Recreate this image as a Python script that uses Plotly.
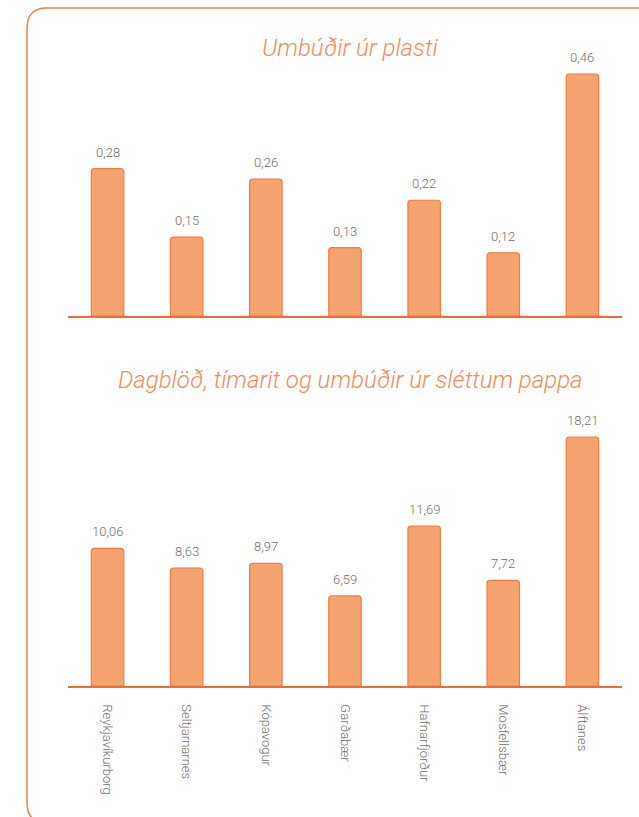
import plotly.graph_objects as go

categories = ["Reykjavíkurborg", "Seltjarnarnes", "Kópavogur", "Garðabær",
              "Hafnarfjörður", "Mosfellsbær", "Álftanes"]
plastic = [0.28, 0.15, 0.26, 0.13, 0.22, 0.12, 0.46]
paper = [10.06, 8.63, 8.97, 6.59, 11.69, 7.72, 18.21]
title_plastic = "Umbúðir úr plasti"
title_paper = "Dagblöð, tímarit og umbúðir úr sléttum pappa"

W, H = 639, 817
FILL = "#F6A372"
EDGE = "#F07C40"
AXIS = "#F26B2E"
TITLE_C = "#F58A5C"
GREY = "#707070"

def px_x(p):
    return p / W

def px_y(p):
    return 1 - p / H

def fmt(v):
    return f"{v:.2f}".replace(".", ",")

fig = go.Figure()
fig.add_trace(go.Bar(x=categories, y=plastic, xaxis="x", yaxis="y",
                     marker=dict(color=FILL, line=dict(color=EDGE, width=1.2), cornerradius=3),
                     hoverinfo="skip"))
fig.add_trace(go.Bar(x=categories, y=paper, xaxis="x2", yaxis="y2",
                     marker=dict(color=FILL, line=dict(color=EDGE, width=1.2), cornerradius=3),
                     hoverinfo="skip"))

num_font = dict(size=13, color=GREY, family="Roboto", weight=300)
ann = []
for c, v in zip(categories, plastic):
    ann.append(dict(x=c, y=v, xref="x", yref="y", text=fmt(v), showarrow=False,
                    yanchor="bottom", yshift=7, font=num_font))
for c, v in zip(categories, paper):
    ann.append(dict(x=c, y=v, xref="x2", yref="y2", text=fmt(v), showarrow=False,
                    yanchor="bottom", yshift=7, font=num_font))
title_font = dict(size=24, color=TITLE_C, family="Roboto", weight=300, style="italic")
ann.append(dict(x=px_x(350), y=px_y(48), xref="paper", yref="paper", text=title_plastic,
                showarrow=False, xanchor="center", yanchor="middle", font=title_font))
ann.append(dict(x=px_x(350), y=px_y(380), xref="paper", yref="paper", text=title_paper,
                showarrow=False, xanchor="center", yanchor="middle", font=title_font))

# top chart: baseline 316px, 0.46 reaches 74px
top_dom = [px_y(316), px_y(60)]
top_max = max(plastic) * (316 - 60) / (316 - 74)
bot_dom = [px_y(686), px_y(420)]
bot_max = max(paper) * (686 - 420) / (686 - 437)

xdom = [px_x(68), px_x(622)]

# rounded frame (extends past right and bottom edges)
x0, y0, x1, y1 = 27, 8, 700, 823
r = 20
rx, ry = r / W, r / H
X0, X1 = px_x(x0), px_x(x1)
Y0, Y1 = px_y(y0), px_y(y1)
path = (f"M {X0+rx},{Y0} L {X1-rx},{Y0} Q {X1},{Y0} {X1},{Y0-ry} "
        f"L {X1},{Y1+ry} Q {X1},{Y1} {X1-rx},{Y1} L {X0+rx},{Y1} Q {X0},{Y1} {X0},{Y1+ry} "
        f"L {X0},{Y0-ry} Q {X0},{Y0} {X0+rx},{Y0} Z")

fig.update_layout(
    width=W, height=H, margin=dict(l=0, r=0, t=0, b=0),
    paper_bgcolor="white", plot_bgcolor="white", showlegend=False,
    bargap=0.59,
    xaxis=dict(domain=xdom, anchor="y", showticklabels=False, showline=True,
               linecolor=AXIS, linewidth=1.5, showgrid=False, zeroline=False, ticks=""),
    yaxis=dict(domain=top_dom, anchor="x", range=[0, top_max], visible=False),
    xaxis2=dict(domain=xdom, anchor="y2", showline=True, linecolor=AXIS, linewidth=1.5,
                showgrid=False, zeroline=False, ticks="", tickangle=90,
                ticklabelstandoff=14,
                tickfont=dict(size=13, color=GREY, family="Roboto", weight=300)),
    yaxis2=dict(domain=bot_dom, anchor="x2", range=[0, bot_max], visible=False),
    annotations=ann,
    shapes=[dict(type="path", xref="paper", yref="paper", path=path,
                 line=dict(color="#F47E45", width=1.5), fillcolor="rgba(0,0,0,0)", layer="below")],
)

fig.write_html("out.html", config={"displayModeBar": False},
               post_script="document.body.style.margin='0';document.body.style.overflow='hidden';")
